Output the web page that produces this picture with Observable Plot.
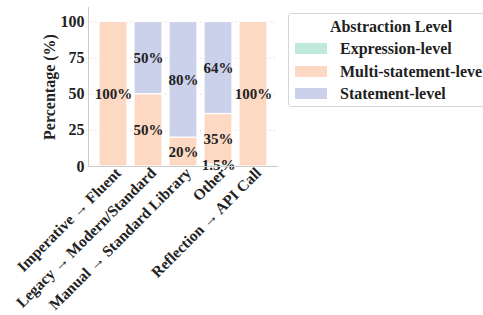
<!DOCTYPE html>
<html>
<head>
<meta charset="utf-8">
<script src="https://cdn.jsdelivr.net/npm/d3@7"></script>
<script src="https://cdn.jsdelivr.net/npm/@observablehq/plot@0.6"></script>
<style>
  body { margin: 0; background: #fff; }
  #wrap { position: relative; width: 483px; height: 315px; overflow: hidden; font-family: "Liberation Serif", serif; font-weight: bold; }
  #legend { position: absolute; left: 288px; top: 13px; width: 210px; height: 94px; border: 1px solid #d6d6d6; border-radius: 3px; background: #fff; box-sizing: border-box; font-size: 16px; color: #222; }
  #legend .title { position: absolute; left: 0; width: 204px; top: 4px; text-align: center; }
  #legend .row { position: absolute; left: 6px; height: 20px; white-space: nowrap; }
  #legend .sw { position: absolute; left: 0; top: 4px; width: 32px; height: 11px; }
  #legend .lab { position: absolute; left: 45px; top: 0; line-height: 20px; }
</style>
</head>
<body>
<div id="wrap"><div id="chart"></div><div id="legend"></div></div>
<script>
const categories = ["Imperative → Fluent", "Legacy → Modern/Standard", "Manual → Standard Library", "Other", "Reflection → API Call"];
const levels = ["Expression-level", "Multi-statement-level", "Statement-level"];
const expression = [0, 0, 0, 1.5, 0];
const multiStatement = [100, 50, 20, 34.8, 100];
const statement = [0, 50, 80, 63.7, 0];
const colors = ["#bfe9da", "#fdd9c4", "#ccd1eb"];
const yTicks = [0, 25, 50, 75, 100];

const series = [expression, multiStatement, statement];
const rows = [];
levels.forEach((lev, li) => {
  categories.forEach((c, ci) => {
    rows.push({category: c, level: lev, value: series[li][ci]});
  });
});
const fmt = v => v < 10 ? v.toFixed(1) + "%" : Math.round(v) + "%";

const chart = Plot.plot({
  width: 483,
  height: 315,
  marginLeft: 88,
  marginRight: 206,
  marginTop: 7,
  marginBottom: 149,
  style: {fontFamily: "Liberation Serif", fontSize: "16px", fontWeight: "bold", color: "#222", background: "transparent"},
  x: {domain: categories, paddingInner: 0.2, paddingOuter: 0.25, label: null},
  y: {domain: [0, 110], ticks: yTicks, label: "Percentage (%)", labelAnchor: "center", labelArrow: "none", labelOffset: 45, tickSize: 0, tickPadding: 4},
  color: {domain: levels, range: colors},
  marks: [
    Plot.gridY(yTicks, {stroke: "#cfcfcf", strokeOpacity: 0.7, strokeDasharray: "1.5,2"}),
    Plot.barY(rows.filter(d => d.value > 0), Plot.stackY({x: "category", y: "value", fill: "level", order: levels, stroke: "white", strokeWidth: 1.2})),
    Plot.text(rows.filter(d => d.value > 0), Plot.stackY({x: "category", y: "value", z: "level", order: levels, text: d => fmt(d.value), fill: "#222", fontSize: 15, fontWeight: "bold"})),
    Plot.axisX({tickRotate: -45, tickSize: 0, tickPadding: 4, dx: 5, label: null, fontSize: 15.5}),
    Plot.frame({anchor: "left", stroke: "#cccccc"}),
    Plot.frame({anchor: "bottom", stroke: "#cccccc"})
  ]
});
document.getElementById("chart").appendChild(chart);

const lg = document.getElementById("legend");
lg.innerHTML = '<div class="title">Abstraction Level</div>' +
  levels.map((l, i) => `<div class="row" style="top:${25 + i * 22.5}px"><div class="sw" style="background:${colors[i]}"></div><div class="lab">${l}</div></div>`).join("");
</script>
</body>
</html>
